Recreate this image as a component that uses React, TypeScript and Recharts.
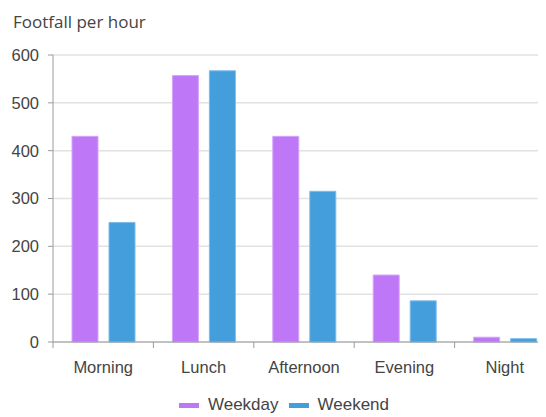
import React from "react";
import { BarChart, Bar, XAxis, YAxis, CartesianGrid, Legend } from "recharts";

// Footfall per hour, by time of day
const periods = ["Morning", "Lunch", "Afternoon", "Evening", "Night"];
const weekdayValues = [430, 557, 430, 140, 10];
const weekendValues = [250, 567, 315, 86, 7];
const yTicks = [0, 100, 200, 300, 400, 500, 600];

const series = [
  { key: "Weekday", color: "#BE78F7", edge: "#D4A6FA" },
  { key: "Weekend", color: "#439EDB", edge: "#7DBCE8" },
];

const data = periods.map((period, i) => ({
  period,
  Weekday: weekdayValues[i],
  Weekend: weekendValues[i],
}));

const FONT = '"Liberation Sans", Arial, sans-serif';
const TEXT = "#444";
const AXIS = "#9a9a9a";
const GRID = "#e2e2e2";
const X_TICK_SIZE = 6;
const X_TICK_MARGIN = 13;

// Category labels sit in the middle of each band; tick marks sit on band edges.
const CategoryTick = (props: any) => {
  const { x, y, payload, width, visibleTicksCount } = props;
  const half =
    payload && typeof payload.offset === "number" && payload.offset > 0
      ? payload.offset
      : width / visibleTicksCount / 2;
  const axisY = y - X_TICK_SIZE - X_TICK_MARGIN;
  return (
    <g>
      <line
        x1={x - half}
        x2={x - half}
        y1={axisY}
        y2={axisY + X_TICK_SIZE}
        stroke={AXIS}
        strokeWidth={1}
      />
      <text
        x={x}
        y={y}
        dy="0.71em"
        textAnchor="middle"
        fill={TEXT}
        fontSize={16.5}
        fontFamily={FONT}
      >
        {payload.value}
      </text>
    </g>
  );
};

const LegendContent = () => (
  <div
    style={{
      display: "flex",
      justifyContent: "center",
      alignItems: "center",
      height: 24,
      fontFamily: FONT,
      fontSize: 17,
      color: TEXT,
    }}
  >
    {series.map((s, i) => (
      <span
        key={s.key}
        style={{ display: "flex", alignItems: "center", marginLeft: i ? 10 : 0 }}
      >
        <span
          style={{
            display: "inline-block",
            width: 20,
            height: 5,
            background: s.color,
            marginRight: 9,
          }}
        />
        {s.key}
      </span>
    ))}
  </div>
);

export default function App() {
  return (
    <div
      style={{
        position: "relative",
        width: 546,
        height: 417,
        margin: "-8px 0 0 -8px",
        overflow: "hidden",
        background: "#fff",
      }}
    >
      <div
        style={{
          position: "absolute",
          left: 13,
          top: 10,
          fontFamily: '"Open Sans", sans-serif',
          fontSize: 17,
          color: TEXT,
          lineHeight: "24px",
          whiteSpace: "nowrap",
        }}
      >
        Footfall per hour
      </div>
      <BarChart
        width={560}
        height={417}
        data={data}
        margin={{ top: 55, right: 5, left: 0, bottom: 0 }}
        barCategoryGap={19}
        barGap={11}
      >
        <CartesianGrid vertical={false} stroke={GRID} strokeWidth={1.5} />
        <XAxis
          dataKey="period"
          height={51}
          stroke={AXIS}
          tickLine={false}
          tickSize={X_TICK_SIZE}
          tickMargin={X_TICK_MARGIN}
          tick={<CategoryTick />}
          interval={0}
        />
        <YAxis
          width={53}
          domain={[0, 600]}
          ticks={yTicks}
          stroke={AXIS}
          tickSize={5}
          tickMargin={9}
          tick={{ fill: TEXT, fontSize: 16.5, fontFamily: FONT }}
        />
        <Legend
          verticalAlign="bottom"
          content={<LegendContent />}
          wrapperStyle={{ left: 0, width: 568, bottom: 0 }}
        />
        {series.map((s) => (
          <Bar
            key={s.key}
            dataKey={s.key}
            fill={s.color}
            stroke={s.edge}
            strokeWidth={1}
            isAnimationActive={false}
          />
        ))}
      </BarChart>
    </div>
  );
}
